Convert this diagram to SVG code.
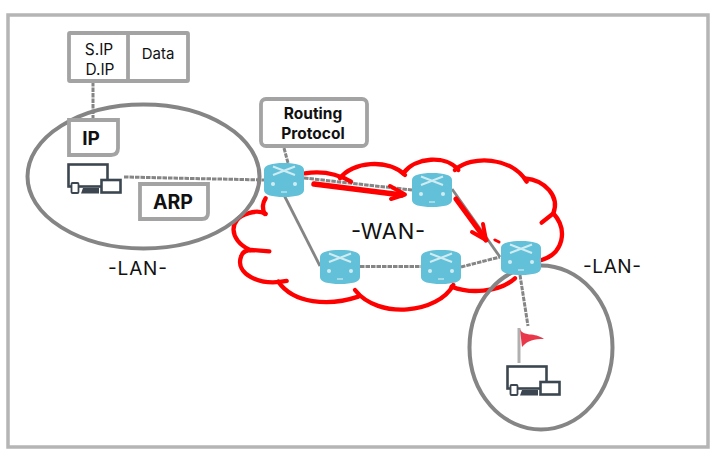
<svg xmlns="http://www.w3.org/2000/svg" xmlns:xlink="http://www.w3.org/1999/xlink" width="713" height="453" viewBox="0 0 713 453">
<style>
text{font-family:Inter,"Noto Sans CJK KR","Noto Sans",sans-serif;fill:#111;text-anchor:middle}
.box{fill:#fff;stroke:#a3a3a3;stroke-width:3.8}
.lan{fill:none;stroke:#858585;stroke-width:4}
.cloud{fill:none;stroke:#f00;stroke-linecap:round}
.link{fill:none;stroke:#858585;stroke-width:3;stroke-dasharray:4.500 1}
.solid{fill:none;stroke:#858585;stroke-width:2.800}
.b{font-weight:700}
.red{fill:none;stroke:#f00;stroke-linecap:round;stroke-linejoin:round}
</style>
<defs>
<symbol id="router" viewBox="0 0 40 34" width="40" height="34" overflow="visible">
<path d="M0 7C0 2 8 0 20 0S40 2 40 7V27C40 32 32 34 20 34S0 32 0 27Z" fill="#62c0d8"/>
<path d="M9 3.500L31 12M31 3.500L9 12" stroke="#cfecf3" stroke-width="2"/>
<circle cx="9" cy="21" r="2" fill="#cfecf3"/><circle cx="31" cy="21" r="2" fill="#cfecf3"/>
<path d="M17 29H23" stroke="#cfecf3" stroke-width="1.200"/>
</symbol>
<symbol id="devices" viewBox="0 0 55 31" width="55" height="31" overflow="visible">
<rect x="1.500" y="1.500" width="39" height="22" fill="#fff" stroke="#3c4650" stroke-width="2.600"/>
<rect x="34.500" y="17" width="19" height="12.500" fill="#fff" stroke="#3c4650" stroke-width="2.600"/>
<rect x="4.500" y="20" width="7" height="10" rx="1" fill="#fff" stroke="#3c4650" stroke-width="1.800"/>
<path d="M14 30.500L16 25H32V30.500Z" fill="#3c4650"/>
</symbol>
</defs>
<rect x="8" y="15" width="700" height="432" fill="#fff" stroke="#b5b5b5" stroke-width="3.500"/>
<g id="connectors">
<path class="link" d="M93 82V119"/>
<path class="link" d="M124 177L264 180"/>
<path class="link" d="M284 148L288 163"/>
<path class="link" d="M304 178L412 190"/>
<path class="solid" d="M452 189L500 257"/>
<path class="solid" d="M284 195L320 266"/>
<path class="link" d="M360 266.500H421"/>
<path class="link" d="M461 267L500 257"/>
<path class="link" d="M520 275L528 326"/>
</g>
<g id="wan-cloud" class="cloud" transform="translate(225 90) scale(.3333)" style="stroke-width:13">
<path d="M240 250C290 242 335 250 378 275"/>
<path d="M345 265C380 215 490 205 540 255"/>
<path d="M535 250C570 200 665 195 700 240"/>
<path d="M690 240C740 195 860 200 905 275"/>
<path d="M900 265C960 270 1005 320 985 370L950 398"/>
<path d="M985 370C1030 420 1015 490 950 510"/>
<path d="M870 565C820 610 730 610 680 590"/>
<path d="M685 585C640 670 460 690 390 600"/>
<path d="M400 620C310 650 205 640 160 575"/>
<path d="M185 573C100 590 30 550 48 500C52 485 65 480 80 480L133 484"/>
<path d="M75 480C10 450 10 385 70 370C90 363 105 362 122 372"/>
<path d="M120 372C110 355 112 340 122 325"/>
</g>
<g id="lan-left"><ellipse class="lan" cx="143.500" cy="176.500" rx="116" ry="72"/></g>
<g id="lan-right"><ellipse class="lan" cx="541" cy="347.500" rx="71.500" ry="82"/></g>
<g id="packet">
<rect class="box" x="69" y="33" width="119" height="48" rx="1"/>
<path class="box" d="M128 33V81"/>
<text x="99" y="55" font-size="15.500">S.IP</text>
<text x="100" y="75" font-size="15.500">D.IP</text>
<text x="158" y="59" font-size="15">Data</text>
</g>
<g id="ip"><path class="box" d="M69 120H118V148Q118 155 111 155H69Z"/><text class="b" x="91" y="145" font-size="19">IP</text></g>
<g id="arp"><path class="box" d="M140 184H208V213Q208 219 202 219H140Z"/><text class="b" x="173" y="208.500" font-size="19.500">ARP</text></g>
<g id="routing"><rect class="box" x="261" y="99" width="106" height="47" rx="5"/><text class="b" x="313" y="119" font-size="15.500">Routing</text><text class="b" x="313" y="139" font-size="15.500">Protocol</text></g>
<use id="pc-left" xlink:href="#devices" href="#devices" x="67" y="163"/>
<use id="pc-right" xlink:href="#devices" href="#devices" x="506" y="365"/>
<g id="flag"><path d="M519 328V363" stroke="#b0b0b0" stroke-width="3"/><path d="M520 329C523 337 535 332 544 339C534 339 528 340 522 347Z" fill="#e8384a"/></g>
<use id="router1" xlink:href="#router" href="#router" x="264" y="163"/>
<use id="router2" xlink:href="#router" href="#router" x="412" y="173"/>
<use id="router3" xlink:href="#router" href="#router" x="320" y="250"/>
<use id="router4" xlink:href="#router" href="#router" x="421" y="250"/>
<use id="router5" xlink:href="#router" href="#router" x="501" y="241"/>
<g id="route-arrows" class="red">
<path d="M314 184L402 195" stroke-width="5.500"/>
<path d="M390 186L405 194.500L391 199" stroke-width="4"/>
<path d="M456 199L486 240" stroke-width="5"/>
<path d="M472 232L486 240L483 224" stroke-width="4"/>
<path d="M495 240L499 242" stroke-width="3"/>
</g>
<text x="388" y="239" font-size="22" textLength="74" lengthAdjust="spacing">-WAN-</text>
<text x="137.500" y="275" font-size="19" textLength="59" lengthAdjust="spacing">-LAN-</text>
<text x="612" y="273" font-size="19" textLength="58" lengthAdjust="spacing">-LAN-</text>
</svg>
